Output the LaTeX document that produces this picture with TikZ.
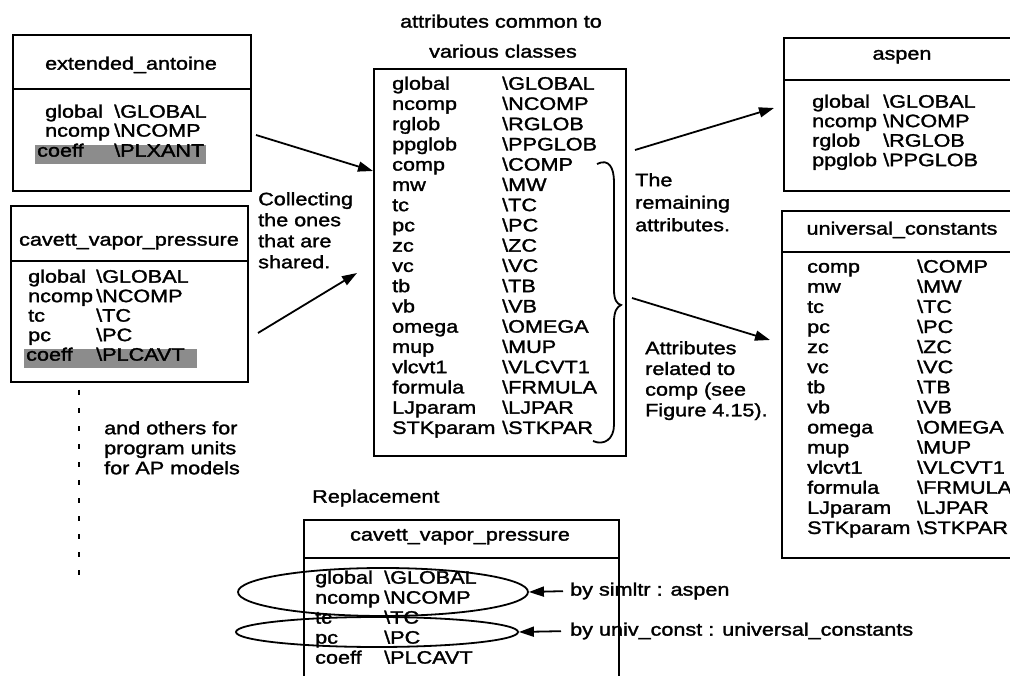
\documentclass[tikz,border=0pt]{standalone}
\usepackage{fontspec}
\setmainfont{Liberation Sans}[FakeStretch=1.2,FakeBold=1.6]
\usetikzlibrary{arrows.meta,shapes.geometric}
\newcommand\bsl{\textbackslash}
\begin{document}
\begin{tikzpicture}[x=1pt,y=-1pt,
  font=\fontsize{18}{21}\selectfont,
  ln/.style={line width=1.8pt},
  box/.style={draw,line width=1.8pt,inner sep=0pt,anchor=north west},
  row/.style={anchor=mid west,inner sep=0pt},
  ttl/.style={anchor=mid,inner sep=0pt},
  para/.style={anchor=north west,inner sep=0pt,align=left},
  arr/.style={line width=1.8pt,-{Triangle[length=15pt,width=10pt]}},
  oval/.style={draw,ellipse,line width=1.8pt,inner sep=0pt},
  shadebar/.style={fill=black!45,inner sep=0pt,anchor=north west}
]
\useasboundingbox (0,0) rectangle (1010,676);
\clip (0,0) rectangle (1010,676);

% ---- extended_antoine ----
\node[box,minimum width=238pt,minimum height=156pt] (ext) at (12,34) {};
\draw[ln] (12,89) -- (250,89);
\node[ttl] (extT) at (131,67) {extended\_antoine};
\node[shadebar,minimum width=171pt,minimum height=19pt] (extS) at (35,145) {};
\node[row] (ext1a) at (45,115) {global};  \node[row] (ext1b) at (114,115) {\bsl GLOBAL};
\node[row] (ext2a) at (45,134) {ncomp};   \node[row] (ext2b) at (114,134) {\bsl NCOMP};
\node[row] (ext3a) at (37,154) {coeff};   \node[row] (ext3b) at (114,154) {\bsl PLXANT};

% ---- cavett_vapor_pressure (left) ----
\node[box,minimum width=237pt,minimum height=176pt] (cav) at (10,205) {};
\draw[ln] (10,261) -- (247,261);
\node[ttl] (cavT) at (129,243) {cavett\_vapor\_pressure};
\node[shadebar,minimum width=173pt,minimum height=19pt] (cavS) at (24,349) {};
\node[row] (cav1a) at (28,280) {global}; \node[row] (cav1b) at (96,280) {\bsl GLOBAL};
\node[row] (cav2a) at (28,299.5) {ncomp}; \node[row] (cav2b) at (96,299.5) {\bsl NCOMP};
\node[row] (cav3a) at (28,319) {tc};     \node[row] (cav3b) at (96,319) {\bsl TC};
\node[row] (cav4a) at (28,338.5) {pc};   \node[row] (cav4b) at (96,338.5) {\bsl PC};
\node[row] (cav5a) at (26,358) {coeff};  \node[row] (cav5b) at (96,358) {\bsl PLCAVT};

% dotted continuation and its note
\coordinate (dtop) at (79,390);
\coordinate (dbot) at (79,577);
\draw[line width=2.2pt,dash pattern=on 5pt off 13pt] (dtop) -- (dbot);
\node[para,font=\fontsize{18}{20}\selectfont] (others) at (104,421)
  {and others for\\program units\\for AP models};

% ---- common attributes ----
\node[ttl] (comT1) at (501,25) {attributes common to};
\node[ttl] (comT2) at (503,55) {various classes};
\node[box,minimum width=252pt,minimum height=387pt] (com) at (373,68) {};
\foreach \na/\va [count=\i] in {global/GLOBAL,ncomp/NCOMP,rglob/RGLOB,ppglob/PPGLOB,
  comp/COMP,mw/MW,tc/TC,pc/PC,zc/ZC,vc/VC,tb/TB,vb/VB,omega/OMEGA,mup/MUP,
  vlcvt1/VLCVT1,formula/FRMULA,LJparam/LJPAR,STKparam/STKPAR}{
  \node[row] (com\i a) at (392,{87+20.25*(\i-1)}) {\na};
  \node[row] (com\i b) at (502,{87+20.25*(\i-1)}) {\bsl\va};
}
% brace grouping comp ... STKparam
\draw[ln] (597,164) .. controls (609,158) and (614,168) .. (614,182)
  -- (614,290) .. controls (614,300) and (617,304) .. (621,305)
  .. controls (617,307) and (614,311) .. (614,322)
  -- (614,425) .. controls (614,439) and (604,446) .. (593,441);

% ---- aspen ----
\node[box,minimum width=238pt,minimum height=153pt] (asp) at (783,37) {};
\draw[ln] (783,80) -- (1021,80);
\node[ttl] (aspT) at (902,57) {aspen};
\foreach \na/\va [count=\i] in {global/GLOBAL,ncomp/NCOMP,rglob/RGLOB,ppglob/PPGLOB}{
  \node[row] (asp\i a) at (812,{105+19.5*(\i-1)}) {\na};
  \node[row] (asp\i b) at (883,{105+19.5*(\i-1)}) {\bsl\va};
}

% ---- universal_constants ----
\node[box,minimum width=242pt,minimum height=347pt] (uni) at (781,210) {};
\draw[ln] (781,252) -- (1023,252);
\node[ttl] (uniT) at (902,232) {universal\_constants};
\foreach \na/\va [count=\i] in {comp/COMP,mw/MW,tc/TC,pc/PC,zc/ZC,vc/VC,tb/TB,vb/VB,
  omega/OMEGA,mup/MUP,vlcvt1/VLCVT1,formula/FRMULA,LJparam/LJPAR,STKparam/STKPAR}{
  \node[row] (uni\i a) at (807,{270+20.1*(\i-1)}) {\na};
  \node[row] (uni\i b) at (917,{270+20.1*(\i-1)}) {\bsl\va};
}

% ---- notes and arrows ----
\node[para,font=\fontsize{18}{21}\selectfont] (collect) at (258,192)
  {Collecting\\the ones\\that are\\shared.};
\node[para,font=\fontsize{18}{22.5}\selectfont] (remain) at (635,173)
  {The\\remaining\\attributes.};
\node[para,font=\fontsize{18}{20.7}\selectfont] (related) at (645,341)
  {Attributes\\related to\\comp (see\\Figure 4.15).};

\coordinate (a1s) at (256,135);  \coordinate (a1e) at (373,171);
\coordinate (a2s) at (258,333);  \coordinate (a2e) at (357,273);
\coordinate (a3s) at (635,150);  \coordinate (a3e) at (774,108);
\coordinate (a4s) at (632,298);  \coordinate (a4e) at (770,340);
\draw[arr] (a1s) -- (a1e);
\draw[arr] (a2s) -- (a2e);
\draw[arr] (a3s) -- (a3e);
\draw[arr] (a4s) -- (a4e);

% ---- replacement ----
\node[row] (repl) at (312,500) {Replacement};
\node[box,minimum width=315pt,minimum height=170pt] (rep) at (303,519) {};
\draw[ln] (303,558) -- (618,558);
\node[ttl] (repT) at (460,538) {cavett\_vapor\_pressure};
\node[row] (rep1a) at (315,581) {global}; \node[row] (rep1b) at (384,581) {\bsl GLOBAL};
\node[row] (rep2a) at (315,601) {ncomp};  \node[row] (rep2b) at (384,601) {\bsl NCOMP};
\node[row] (rep3a) at (315,621) {tc};     \node[row] (rep3b) at (384,621) {\bsl TC};
\node[row] (rep4a) at (315,641) {pc};     \node[row] (rep4b) at (384,641) {\bsl PC};
\node[row] (rep5a) at (315,661) {coeff};  \node[row] (rep5b) at (384,661) {\bsl PLCAVT};

\node[oval,minimum width=290pt,minimum height=48pt] (ov1) at (383,592) {};
\node[oval,minimum width=282pt,minimum height=30pt] (ov2) at (377,632) {};
\node[row] (by1) at (570,593) {by simltr : aspen};
\node[row] (by2) at (570,633) {by univ\_const : universal\_constants};
\draw[arr,shorten <=7pt] (by1.west) -- (ov1.east);
\draw[arr,shorten <=9pt] (by2.west) -- (ov2.east);
\end{tikzpicture}
\end{document}
